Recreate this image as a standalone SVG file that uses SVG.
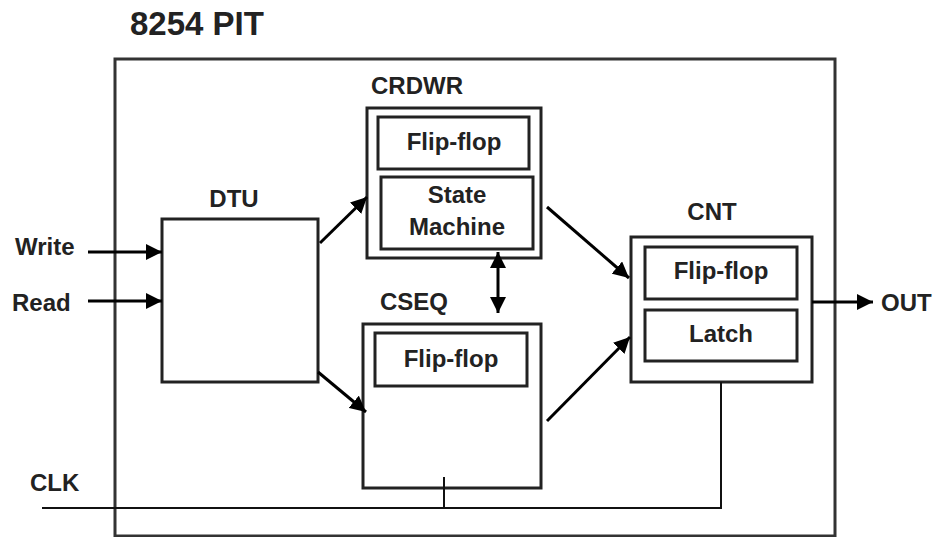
<svg xmlns="http://www.w3.org/2000/svg" width="937" height="537" viewBox="0 0 937 537">
<style>
text{font-family:"Liberation Sans",Arial,sans-serif;font-weight:bold;fill:#222;font-size:24px}
.c{text-anchor:middle}
.box{fill:#fff;stroke:#222;stroke-width:3}
.in{fill:none;stroke:#222;stroke-width:3}
.ln{fill:none;stroke:#000;stroke-width:3}
.thin{fill:none;stroke:#111;stroke-width:2}
</style>
<defs>
<marker id="ah" markerUnits="userSpaceOnUse" markerWidth="18" markerHeight="16" refX="16" refY="8" orient="auto-start-reverse" viewBox="0 0 18 16">
<path d="M0,0 L16,8 L0,16 Z" fill="#000"/>
</marker>
</defs>
<rect width="937" height="537" fill="#fff"/>
<text x="130" y="35" style="font-size:33px">8254 PIT</text>
<rect id="pit" x="115" y="59" width="720" height="477" fill="none" stroke="#333" stroke-width="3"/>
<g id="dtu">
<text class="c" x="234" y="207">DTU</text>
<rect class="box" x="162" y="219" width="156" height="163"/>
</g>
<g id="crdwr">
<text class="c" x="417" y="94">CRDWR</text>
<rect class="box" x="367" y="108" width="174" height="150"/>
<rect class="in" x="378" y="117" width="151" height="52"/>
<rect class="in" x="381" y="177" width="152" height="72"/>
<text class="c" x="454" y="150">Flip-flop</text>
<text class="c" x="457" y="203">State</text>
<text class="c" x="457" y="235">Machine</text>
</g>
<g id="cseq">
<text class="c" x="414" y="310">CSEQ</text>
<rect class="box" x="363" y="324" width="178" height="164"/>
<rect class="in" x="375" y="333" width="152" height="53"/>
<text class="c" x="451" y="367">Flip-flop</text>
</g>
<g id="cnt">
<text class="c" x="712" y="220">CNT</text>
<rect class="box" x="631" y="237" width="181" height="145"/>
<rect class="in" x="645" y="247" width="152" height="52"/>
<rect class="in" x="645" y="310" width="152" height="51"/>
<text class="c" x="721" y="279">Flip-flop</text>
<text class="c" x="721" y="342">Latch</text>
</g>
<g id="labels">
<text x="15" y="255">Write</text>
<text x="12" y="311">Read</text>
<text x="30" y="491">CLK</text>
<text x="881" y="311">OUT</text>
</g>
<g id="connectors">
<line class="ln" x1="88" y1="252" x2="162" y2="252" marker-end="url(#ah)"/>
<line class="ln" x1="88" y1="301" x2="162" y2="301" marker-end="url(#ah)"/>
<line class="ln" x1="320" y1="243" x2="367" y2="197" marker-end="url(#ah)"/>
<line class="ln" x1="318" y1="372" x2="366" y2="412" marker-end="url(#ah)"/>
<line class="ln" x1="547" y1="207" x2="629" y2="278" marker-end="url(#ah)"/>
<line class="ln" x1="547" y1="421" x2="630" y2="337" marker-end="url(#ah)"/>
<line class="ln" x1="498" y1="252" x2="498" y2="313" marker-start="url(#ah)" marker-end="url(#ah)"/>
<line class="ln" x1="812" y1="302" x2="873" y2="302" marker-end="url(#ah)"/>
<polyline class="thin" points="42,508 721,508 721,382"/>
<line class="thin" x1="444" y1="477" x2="444" y2="508"/>
</g>
</svg>
